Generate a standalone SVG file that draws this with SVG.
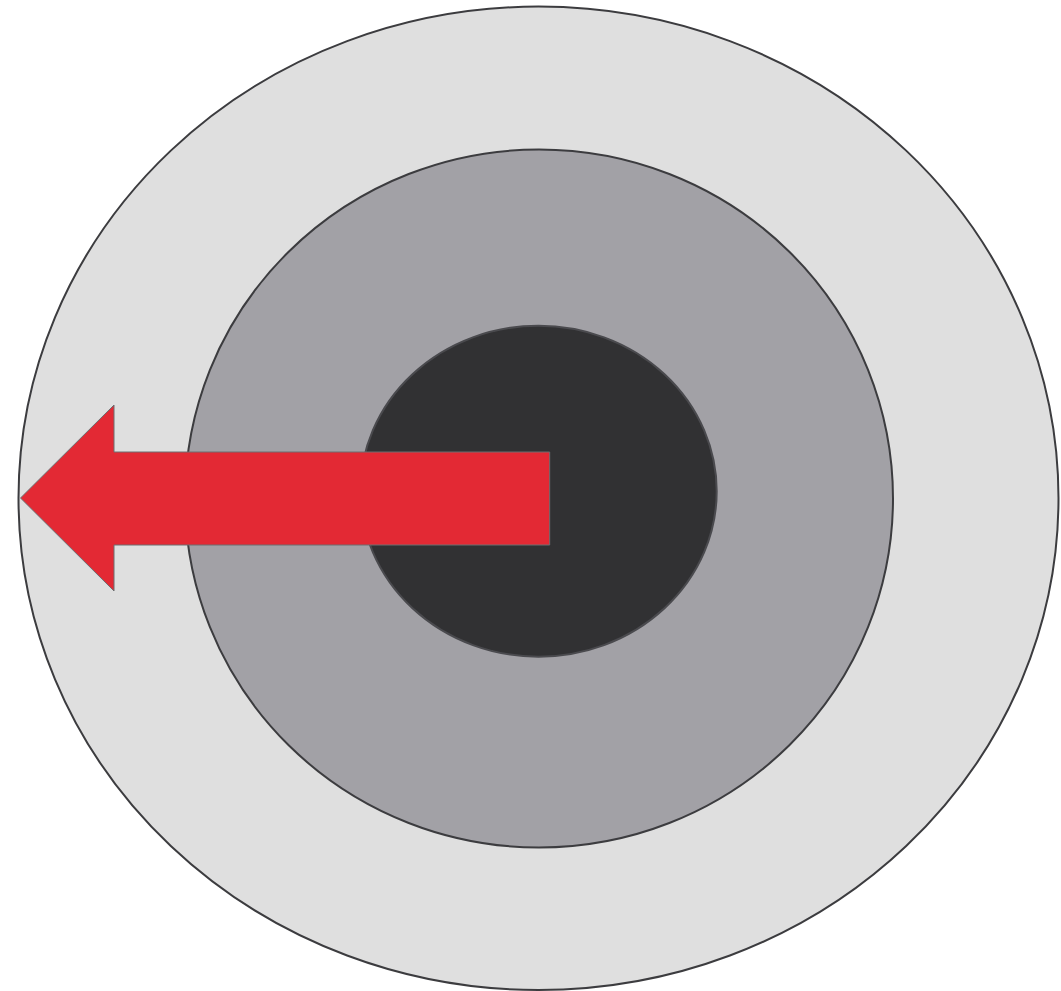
<svg xmlns="http://www.w3.org/2000/svg" width="1061" height="991" viewBox="0 0 1061 991">
<style>
.ring{stroke:#3c3c3f;stroke-width:2}
.core{stroke:#4a4a4e;stroke-width:2}
.arrow{fill:#e32934;stroke:#6d6e71;stroke-width:1}
</style>
<rect width="1061" height="991" fill="#ffffff"/>
<g id="outer"><ellipse class="ring" cx="538.5" cy="498.3" rx="520" ry="491.7" fill="#dfdfdf"/></g>
<g id="middle"><ellipse class="ring" cx="539" cy="498.5" rx="354" ry="349" fill="#a2a1a6"/></g>
<g id="inner"><ellipse class="core" cx="538.5" cy="491.2" rx="178.2" ry="165.5" fill="#313133"/></g>
<g id="arrow"><polygon class="arrow" points="20.5,498 114,405 114,452 549.7,452 549.7,545 114,545 114,591"/></g>
</svg>
